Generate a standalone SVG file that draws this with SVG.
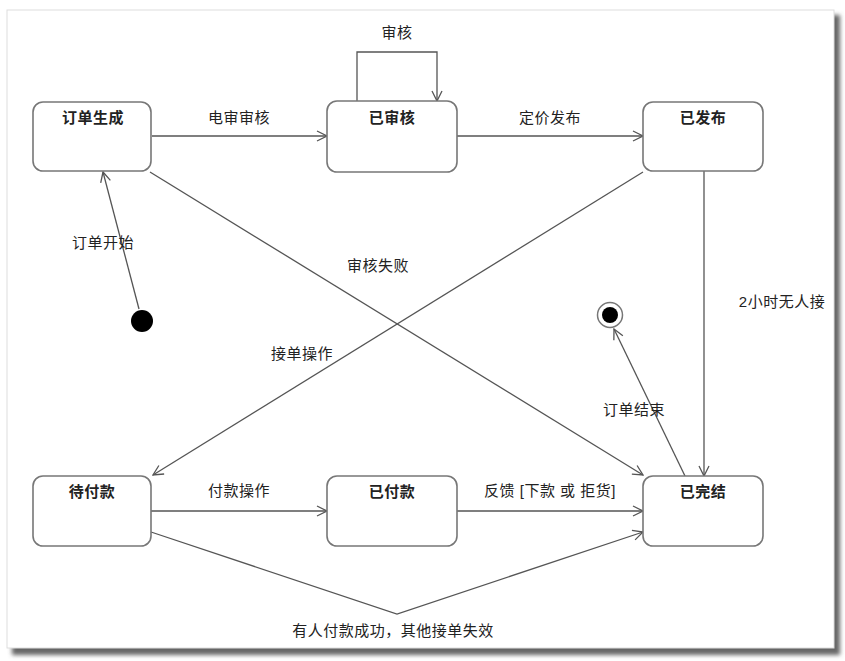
<svg xmlns="http://www.w3.org/2000/svg" width="845" height="661" viewBox="0 0 845 661">
<defs>
<marker id="arr" markerWidth="12" markerHeight="12" refX="11" refY="6" orient="auto" markerUnits="userSpaceOnUse">
<path d="M1,1 L11,6 L1,11" fill="none" stroke="#555" stroke-width="1.3"/>
</marker>
<filter id="sh" x="-5%" y="-5%" width="110%" height="110%">
<feGaussianBlur stdDeviation="2"/>
</filter>
</defs>
<style>
.node{fill:#fff;stroke:#777;stroke-width:1.6}
.nt{font-family:"Liberation Sans","Noto Sans CJK SC",sans-serif;font-size:15px;font-weight:bold;fill:#222;text-anchor:middle;letter-spacing:0.5px}
.lt{font-family:"Liberation Sans","Noto Sans CJK SC",sans-serif;font-size:15px;fill:#222;text-anchor:middle;letter-spacing:0.5px}
.c{fill:none;stroke:#555;stroke-width:1.3}
</style>
<rect width="845" height="661" fill="#fff"/>
<rect x="12" y="15" width="828" height="640" fill="#666" filter="url(#sh)"/>
<rect x="7" y="10" width="827" height="638" fill="#fff" stroke="#ddd" stroke-width="1"/>

<g id="connectors">
<path class="c" d="M152,136 L327,136" marker-end="url(#arr)"/>
<text class="lt" x="239" y="123">电审审核</text>
<path class="c" d="M457,136 L643,136" marker-end="url(#arr)"/>
<text class="lt" x="550" y="123">定价发布</text>
<path class="c" d="M357,101 L357,52 L437,52 L437,101" marker-end="url(#arr)"/>
<text class="lt" x="397" y="38">审核</text>
<path class="c" d="M139,309 L103,172" marker-end="url(#arr)"/>
<text class="lt" x="103" y="248">订单开始</text>
<path class="c" d="M150,172 L643,475" marker-end="url(#arr)"/>
<text class="lt" x="378" y="271">审核失败</text>
<path class="c" d="M643,172 L153,475" marker-end="url(#arr)"/>
<text class="lt" x="302" y="359">接单操作</text>
<path class="c" d="M704,171 L704,476" marker-end="url(#arr)"/>
<text class="lt" x="782" y="307">2小时无人接</text>
<path class="c" d="M685,476 L614,329" marker-end="url(#arr)"/>
<text class="lt" x="634" y="415">订单结束</text>
<path class="c" d="M151,511 L327,511" marker-end="url(#arr)"/>
<text class="lt" x="239" y="496">付款操作</text>
<path class="c" d="M457,511 L643,511" marker-end="url(#arr)"/>
<text class="lt" x="550" y="496">反馈 [下款 或 拒货]</text>
<path class="c" d="M151,532 L397,614 L643,532" marker-end="url(#arr)"/>
<text class="lt" x="393" y="636">有人付款成功，其他接单失效</text>
</g>

<g id="start"><circle cx="142" cy="321" r="11" fill="#000"/></g>
<g id="end"><circle cx="610" cy="315" r="12.5" fill="#fff" stroke="#777" stroke-width="1.5"/><circle cx="610" cy="315" r="8" fill="#000"/></g>

<g id="n1"><rect class="node" x="33" y="102" width="118" height="69" rx="10"/><text class="nt" x="93" y="123">订单生成</text></g>
<g id="n2"><rect class="node" x="327" y="101" width="130" height="71" rx="10"/><text class="nt" x="392" y="123">已审核</text></g>
<g id="n3"><rect class="node" x="643" y="102" width="120" height="69" rx="10"/><text class="nt" x="703" y="123">已发布</text></g>
<g id="n4"><rect class="node" x="33" y="476" width="118" height="70" rx="10"/><text class="nt" x="92" y="497">待付款</text></g>
<g id="n5"><rect class="node" x="327" y="476" width="130" height="70" rx="10"/><text class="nt" x="392" y="497">已付款</text></g>
<g id="n6"><rect class="node" x="643" y="476" width="120" height="70" rx="10"/><text class="nt" x="703" y="497">已完结</text></g>
</svg>
